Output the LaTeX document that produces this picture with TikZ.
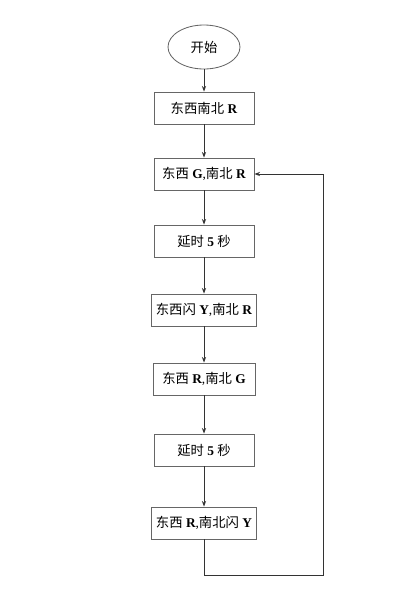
\documentclass[tikz,border=0pt]{standalone}
\usepackage{fontspec}
\setmainfont{Liberation Serif}
\newfontfamily\cjk{Noto Sans CJK SC}
\usetikzlibrary{arrows.meta, shapes.geometric, positioning}

\begin{document}
\begin{tikzpicture}[x=0.025cm, y=-0.025cm, >={Stealth[length=4pt, width=3pt]},
    stepbox/.style={draw=black!60, line width=0.6pt, minimum width=2.5cm,
                    minimum height=0.8cm, font=\fontsize{9.5}{11}\selectfont},
    flow/.style={->, draw=black!80, line width=0.6pt}]
  \useasboundingbox (0,0) rectangle (400,607);

  % Départ
  \node[ellipse, draw=black!60, line width=0.6pt, minimum width=1.8cm,
        minimum height=1.1cm, font=\fontsize{9.5}{11}\selectfont]
      (start) at (204,47) {{\cjk 开始}};

  % Etapes du cycle
  \node[stepbox] (ewR)    at (204,108) {{\cjk 东西南北} \textbf{R}};
  \node[stepbox] (ewG)    at (204,174) {{\cjk 东西} \textbf{G},{\cjk 南北} \textbf{R}};
  \node[stepbox] (wait1)  at (204,241) {{\cjk 延时} \textbf{5} {\cjk 秒}};
  \node[stepbox, minimum width=2.575cm]
                 (ewY)    at (204,310) {{\cjk 东西闪} \textbf{Y},{\cjk 南北} \textbf{R}};
  \node[stepbox, minimum width=2.55cm]
                 (nsG)    at (204,379) {{\cjk 东西} \textbf{R},{\cjk 南北} \textbf{G}};
  \node[stepbox] (wait2)  at (204,450) {{\cjk 延时} \textbf{5} {\cjk 秒}};
  \node[stepbox, minimum width=2.575cm]
                 (nsY)    at (204,523) {{\cjk 东西} \textbf{R},{\cjk 南北闪} \textbf{Y}};

  % Liaisons
  \draw[flow] (start) -- (ewR);
  \draw[flow] (ewR) -- (ewG);
  \draw[flow] (ewG) -- (wait1);
  \draw[flow] (wait1) -- (ewY);
  \draw[flow] (ewY) -- (nsG);
  \draw[flow] (nsG) -- (wait2);
  \draw[flow] (wait2) -- (nsY);

  % Retour en boucle
  \coordinate (loopr) at (323,575);
  \draw[flow] (nsY.south) |- (loopr) |- (ewG.east);
\end{tikzpicture}
\end{document}
